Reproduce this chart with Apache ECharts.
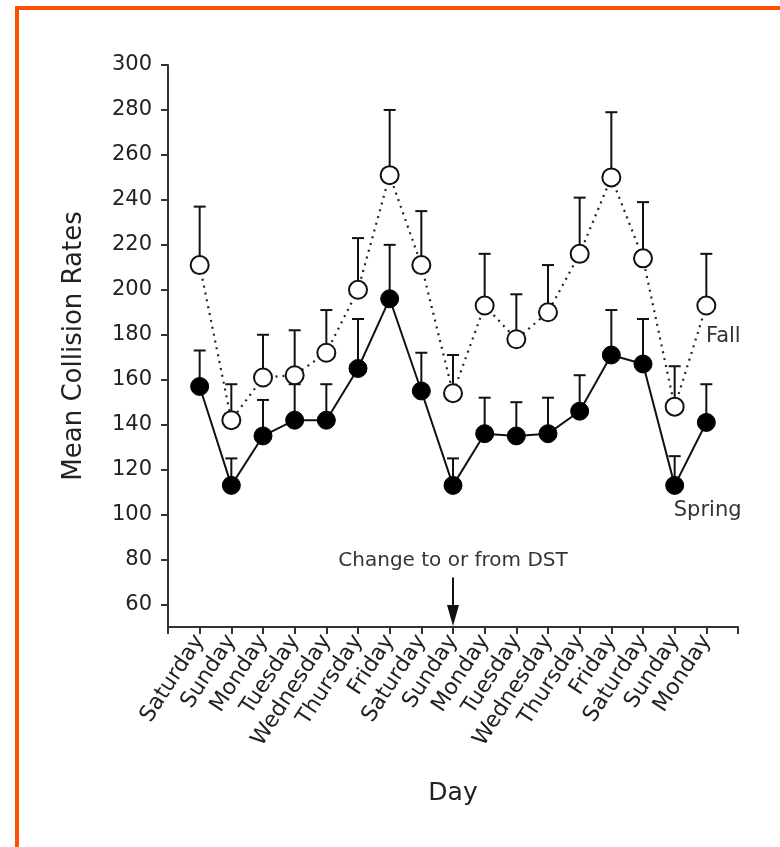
<!DOCTYPE html>
<html>
<head>
<meta charset="utf-8">
<script src="https://cdn.jsdelivr.net/npm/echarts@6/dist/echarts.min.js"></script>
<style>
html,body{margin:0;padding:0;background:#fff;}
#frame{position:absolute;left:15px;top:6px;width:765px;height:841px;border-left:4px solid #ff5000;border-top:4px solid #ff5000;box-sizing:border-box;}
#chart{position:absolute;left:0;top:0;width:780px;height:847px;}
</style>
</head>
<body>
<div id="frame"></div>
<div id="chart"></div>
<script>
const days = ['Saturday','Sunday','Monday','Tuesday','Wednesday','Thursday','Friday','Saturday','Sunday','Monday','Tuesday','Wednesday','Thursday','Friday','Saturday','Sunday','Monday'];
const fallMean = [211, 142, 161, 162, 172, 200, 251, 211, 154, 193, 178, 190, 216, 250, 214, 148, 193];
const fallTop  = [237, 158, 180, 182, 191, 223, 280, 235, 171, 216, 198, 211, 241, 279, 239, 166, 216];
const springMean = [157, 113, 135, 142, 142, 165, 196, 155, 113, 136, 135, 136, 146, 171, 167, 113, 141];
const springTop  = [173, 125, 151, 158, 158, 187, 220, 172, 125, 152, 150, 152, 162, 191, 187, 126, 158];
const yTicks = [60, 80, 100, 120, 140, 160, 180, 200, 220, 240, 260, 280, 300];
const dstIndex = 9;

const FONT = '"DejaVu Sans", "Liberation Sans", sans-serif';
const chart = echarts.init(document.getElementById('chart'), null, {renderer:'canvas'});

function pts(arr){ return arr.map((v,i)=>[i+1, v]); }
function errData(mean, top){ return mean.map((v,i)=>[i+1, v, top[i]]); }

function errRender(params, api){
  const x = api.value(0);
  const p0 = api.coord([x, api.value(1)]);
  const p1 = api.coord([x, api.value(2)]);
  const w = 6;
  return {
    type:'group',
    children:[
      {type:'line', shape:{x1:p0[0], y1:p0[1], x2:p1[0], y2:p1[1]}, style:{stroke:'#111', lineWidth:2}},
      {type:'line', shape:{x1:p1[0]-w, y1:p1[1], x2:p1[0]+w, y2:p1[1]}, style:{stroke:'#111', lineWidth:2}}
    ]
  };
}

const fallPts = pts(fallMean);
const springPts = pts(springMean);
fallPts[16] = {value: fallPts[16], label:{show:true, formatter:'Fall', position:'inside', offset:[17,31], fontSize:21, color:'#333', fontFamily:FONT}};
springPts[15] = {value: springPts[15], label:{show:true, formatter:'Spring', position:'inside', offset:[33,25], fontSize:21, color:'#333', fontFamily:FONT}};

chart.setOption({
  animation:false,
  backgroundColor:'transparent',
  grid:{left:168, top:65, right:42, bottom:220, containLabel:false},
  xAxis:{
    type:'value', min:0, max:18, interval:1,
    name:'Day', nameLocation:'middle', nameGap:154,
    nameTextStyle:{fontSize:25, color:'#222', fontFamily:FONT},
    axisLine:{show:true, lineStyle:{color:'#333', width:2}},
    axisTick:{show:true, inside:false, length:7, lineStyle:{color:'#333', width:2}},
    splitLine:{show:false},
    axisLabel:{
      rotate:57, margin:10, fontSize:22, color:'#222', fontFamily:FONT,
      formatter:function(v){ return (v>=1 && v<=days.length) ? days[v-1] : ''; }
    }
  },
  yAxis:{
    type:'value', min:50, max:300,
    name:'Mean Collision Rates', nameLocation:'middle', nameGap:81,
    nameTextStyle:{fontSize:26, color:'#222', fontFamily:FONT},
    axisLine:{show:true, lineStyle:{color:'#333', width:2}},
    axisTick:{show:true, inside:false, length:7, lineStyle:{color:'#333', width:2},
      customValues: yTicks},
    splitLine:{show:false},
    axisLabel:{fontSize:21, color:'#222', fontFamily:FONT, margin:16,
      customValues: yTicks}
  },
  series:[
    {type:'custom', renderItem:errRender, data:errData(fallMean, fallTop), z:2, silent:true},
    {type:'custom', renderItem:errRender, data:errData(springMean, springTop), z:2, silent:true},
    {type:'line', name:'Spring', data:springPts, z:3,
      symbol:'circle', symbolSize:18,
      lineStyle:{color:'#111', width:2, type:'solid'},
      itemStyle:{color:'#000', borderColor:'#000', borderWidth:1}},
    {type:'line', name:'Fall', data:fallPts, z:4,
      symbol:'circle', symbolSize:18,
      lineStyle:{color:'#222', width:2.2, type:[2,5]},
      itemStyle:{color:'#fff', borderColor:'#111', borderWidth:2}}
  ]
});

const a0 = chart.convertToPixel({gridIndex:0}, [dstIndex, 72]);
const a1 = chart.convertToPixel({gridIndex:0}, [dstIndex, 50]);
const t0 = chart.convertToPixel({gridIndex:0}, [dstIndex, 79.5]);
chart.setOption({
  graphic:[
    {type:'line', shape:{x1:a0[0], y1:a0[1], x2:a1[0], y2:a1[1]-20}, style:{stroke:'#111', lineWidth:2}, z:10},
    {type:'polygon', shape:{points:[[a1[0]-6, a1[1]-22],[a1[0]+6, a1[1]-22],[a1[0], a1[1]-1]]}, style:{fill:'#111'}, z:10},
    {type:'text', x:t0[0], y:t0[1], style:{text:'Change to or from DST', fontSize:20, fill:'#333', fontFamily:FONT, align:'center', verticalAlign:'middle'}, z:10}
  ]
});
</script>
</body>
</html>
